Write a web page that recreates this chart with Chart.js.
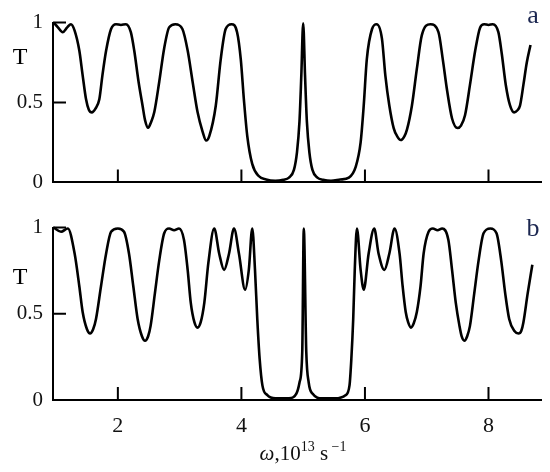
<!DOCTYPE html>
<html>
<head>
<meta charset="utf-8">
<script src="https://cdn.jsdelivr.net/npm/chart.js@4.4.0/dist/chart.umd.min.js"></script>
<style>
  body { margin: 0; background: #fff; width: 550px; height: 472px; overflow: hidden; position: relative; }
  canvas { position: absolute; left: 0; }
</style>
</head>
<body>
<canvas id="panelA" width="550" height="205" style="top:0"></canvas>
<canvas id="panelB" width="550" height="267" style="top:205px"></canvas>
<script>
// omega in 10^13 s^-1, transmission T
const omegaA = [0.96, 1.03, 1.107, 1.18, 1.24, 1.30, 1.376, 1.43, 1.485, 1.53, 1.58, 1.635, 1.70, 1.75, 1.81, 1.89,
  1.97, 2.05, 2.13, 2.21, 2.265, 2.335, 2.40, 2.44, 2.49, 2.54, 2.59, 2.67, 2.75, 2.83, 2.93, 3.045, 3.13, 3.21,
  3.29, 3.37, 3.43, 3.48, 3.585, 3.665, 3.745, 3.84, 3.93, 3.99, 4.04, 4.095, 4.175, 4.28, 4.40, 4.55, 4.68,
  4.77, 4.85, 4.90, 4.94, 4.97, 5.0, 5.03, 5.06, 5.10, 5.15, 5.23, 5.32, 5.45, 5.60, 5.74, 5.85, 5.93,
  5.98, 6.03, 6.115, 6.19, 6.275, 6.33, 6.395, 6.465, 6.52, 6.58, 6.64, 6.68, 6.76, 6.84, 6.92, 7.06, 7.19, 7.26,
  7.33, 7.41, 7.50, 7.555, 7.62, 7.70, 7.785, 7.865, 7.93, 8.00, 8.07, 8.16, 8.215, 8.28, 8.35, 8.415, 8.465, 8.51,
  8.565, 8.62, 8.68];
const transA = [1.0, 0.97, 0.94, 0.97, 0.99, 0.95, 0.825, 0.67, 0.52, 0.455, 0.438, 0.46, 0.52, 0.67, 0.825, 0.96,
  0.99, 0.985, 0.99, 0.94, 0.825, 0.63, 0.48, 0.39, 0.342, 0.38, 0.44, 0.63, 0.84, 0.97, 0.99, 0.96, 0.825, 0.63,
  0.44, 0.32, 0.262, 0.29, 0.48, 0.77, 0.96, 0.99, 0.94, 0.77, 0.52, 0.29, 0.116, 0.04, 0.018, 0.01, 0.017,
  0.03, 0.078, 0.19, 0.38, 0.67, 0.995, 0.67, 0.38, 0.19, 0.078, 0.03, 0.017, 0.01, 0.018, 0.03, 0.097, 0.25,
  0.48, 0.77, 0.96, 0.99, 0.90, 0.67, 0.48, 0.34, 0.29, 0.265, 0.29, 0.33, 0.48, 0.71, 0.92, 0.99, 0.94, 0.77,
  0.575, 0.40, 0.34, 0.355, 0.42, 0.61, 0.825, 0.97, 0.99, 0.985, 0.99, 0.94, 0.805, 0.61, 0.48, 0.438, 0.45, 0.48,
  0.61, 0.75, 0.86];

const omegaB = [0.96, 1.08, 1.19, 1.30, 1.376, 1.43, 1.50, 1.55, 1.60, 1.646, 1.727, 1.81, 1.89, 2.0, 2.10, 2.18,
  2.25, 2.32, 2.39, 2.44, 2.49, 2.53, 2.60, 2.67, 2.75, 2.83, 2.91, 2.99, 3.07, 3.13, 3.18, 3.24, 3.29, 3.34, 3.40, 3.465,
  3.56, 3.64, 3.72, 3.80, 3.88, 3.96, 4.06, 4.12, 4.176, 4.22, 4.257, 4.295, 4.34, 4.42, 4.55, 4.77,
  4.89, 4.94, 4.985, 5.01, 5.05, 5.09, 5.15, 5.31, 5.52, 5.685, 5.75, 5.78, 5.81, 5.835, 5.87, 5.93,
  5.98, 6.06, 6.15, 6.22, 6.315, 6.395, 6.48, 6.56, 6.61, 6.66, 6.70, 6.745, 6.79, 6.84, 6.90, 6.95, 7.03, 7.10,
  7.175, 7.25, 7.35, 7.41, 7.47, 7.53, 7.565, 7.61, 7.655, 7.70, 7.77, 7.84, 7.92, 8.03, 8.13, 8.205, 8.27, 8.335,
  8.42, 8.485, 8.53, 8.565, 8.635, 8.71];
const transB = [1.0, 0.976, 0.995, 0.85, 0.66, 0.51, 0.41, 0.386, 0.41, 0.47, 0.66, 0.85, 0.976, 0.995, 0.976, 0.85,
  0.66, 0.47, 0.37, 0.344, 0.37, 0.43, 0.62, 0.81, 0.967, 0.995, 0.985, 0.995, 0.93, 0.755, 0.565, 0.45, 0.42, 0.45, 0.565, 0.795,
  0.995, 0.85, 0.755, 0.85, 0.995, 0.85, 0.64, 0.755, 0.995, 0.755, 0.47, 0.24, 0.085, 0.028, 0.01, 0.01,
  0.037, 0.10, 0.28, 0.995, 0.28, 0.10, 0.037, 0.01, 0.01, 0.028, 0.085, 0.24, 0.47, 0.755, 0.995, 0.755,
  0.64, 0.85, 0.995, 0.85, 0.755, 0.85, 0.995, 0.85, 0.66, 0.51, 0.45, 0.42, 0.445, 0.51, 0.66, 0.85, 0.976, 0.995,
  0.985, 0.995, 0.93, 0.755, 0.565, 0.43, 0.37, 0.344, 0.37, 0.43, 0.62, 0.81, 0.967, 0.995, 0.967, 0.81, 0.62, 0.47,
  0.40, 0.386, 0.40, 0.45, 0.62, 0.785];

const xTicks = [2, 4, 6, 8];
const yTicks = [0, 0.5, 1];

const serif = "'Liberation Serif', 'Times New Roman', serif";

// inward tick marks, the T label, panel letter and the omega title
const panelDecor = {
  id: "panelDecor",
  afterDraw(chart, args, opts) {
    const ctx = chart.ctx;
    const area = chart.chartArea;
    const sx = chart.scales.x, sy = chart.scales.y;
    ctx.save();
    ctx.strokeStyle = "#000";
    ctx.lineWidth = 2;
    ctx.beginPath();
    xTicks.forEach((v) => {
      const p = sx.getPixelForValue(v);
      ctx.moveTo(p, area.bottom);
      ctx.lineTo(p, area.bottom - 13);
    });
    [0.5, 1].forEach((v) => {
      const p = sy.getPixelForValue(v);
      ctx.moveTo(area.left, p);
      ctx.lineTo(area.left + 13, p);
    });
    ctx.stroke();

    ctx.textBaseline = "middle";
    ctx.textAlign = "center";
    ctx.fillStyle = "#000";
    ctx.font = "24px " + serif;
    ctx.fillText("T", 20, opts.tY);
    ctx.fillStyle = "#1b2650";
    ctx.font = "26px " + serif;
    ctx.fillText(opts.letter, 533, opts.letterY);

    if (opts.titleY) {
      const parts = [
        ["italic 21px " + serif, "ω", 0],
        ["21px " + serif, ",10", 0],
        ["14px " + serif, "13", -9],
        ["21px " + serif, " s", 0],
        ["14px " + serif, " −1", -9],
      ];
      let w = 0;
      parts.forEach((p) => { ctx.font = p[0]; w += ctx.measureText(p[1]).width; });
      let x = 303 - w / 2;
      ctx.textAlign = "left";
      ctx.textBaseline = "alphabetic";
      ctx.fillStyle = "#111";
      parts.forEach((p) => {
        ctx.font = p[0];
        ctx.fillText(p[1], x, opts.titleY + p[2]);
        x += ctx.measureText(p[1]).width;
      });
    }
    ctx.restore();
  },
};

function makeConfig(xs, ys, decor, showX, xHeight, topPad) {
  return {
    type: "line",
    data: {
      datasets: [{
        data: xs.map((x, i) => ({ x: x, y: ys[i] })),
        borderColor: "#000",
        borderWidth: 2.6,
        pointRadius: 0,
        cubicInterpolationMode: "monotone",
        clip: false,
      }],
    },
    options: {
      responsive: false,
      animation: false,
      layout: { padding: { top: topPad, right: 9, left: 0, bottom: 0 } },
      plugins: { legend: { display: false }, tooltip: { enabled: false }, panelDecor: decor },
      scales: {
        x: {
          type: "linear",
          min: 0.95,
          max: 8.85,
          afterBuildTicks: (s) => { s.ticks = xTicks.map((v) => ({ value: v })); },
          afterFit: (s) => { s.height = xHeight; },
          grid: { display: true, drawOnChartArea: false, drawTicks: false },
          border: { display: true, color: "#000", width: 2 },
          ticks: { display: showX, padding: 13, color: "#111", font: { family: serif, size: 22 },
            callback: (v) => String(v) },
        },
        y: {
          min: 0,
          max: 1,
          afterBuildTicks: (s) => { s.ticks = yTicks.map((v) => ({ value: v })); },
          afterFit: (s) => { s.width = 53; },
          grid: { display: true, drawOnChartArea: false, drawTicks: false },
          border: { display: true, color: "#000", width: 2 },
          ticks: { padding: 10, color: "#111", font: { family: serif, size: 21 },
            callback: (v) => String(v) },
        },
      },
    },
    plugins: [panelDecor],
  };
}

const chartA = new Chart(
  document.getElementById("panelA"),
  makeConfig(omegaA, transA, { letter: "a", letterY: 16, tY: 58 }, false, 16, 14)
);

const chartB = new Chart(
  document.getElementById("panelB"),
  makeConfig(omegaB, transB, { letter: "b", letterY: 24, tY: 73, titleY: 255 }, true, 72, 20)
);
</script>
</body>
</html>
